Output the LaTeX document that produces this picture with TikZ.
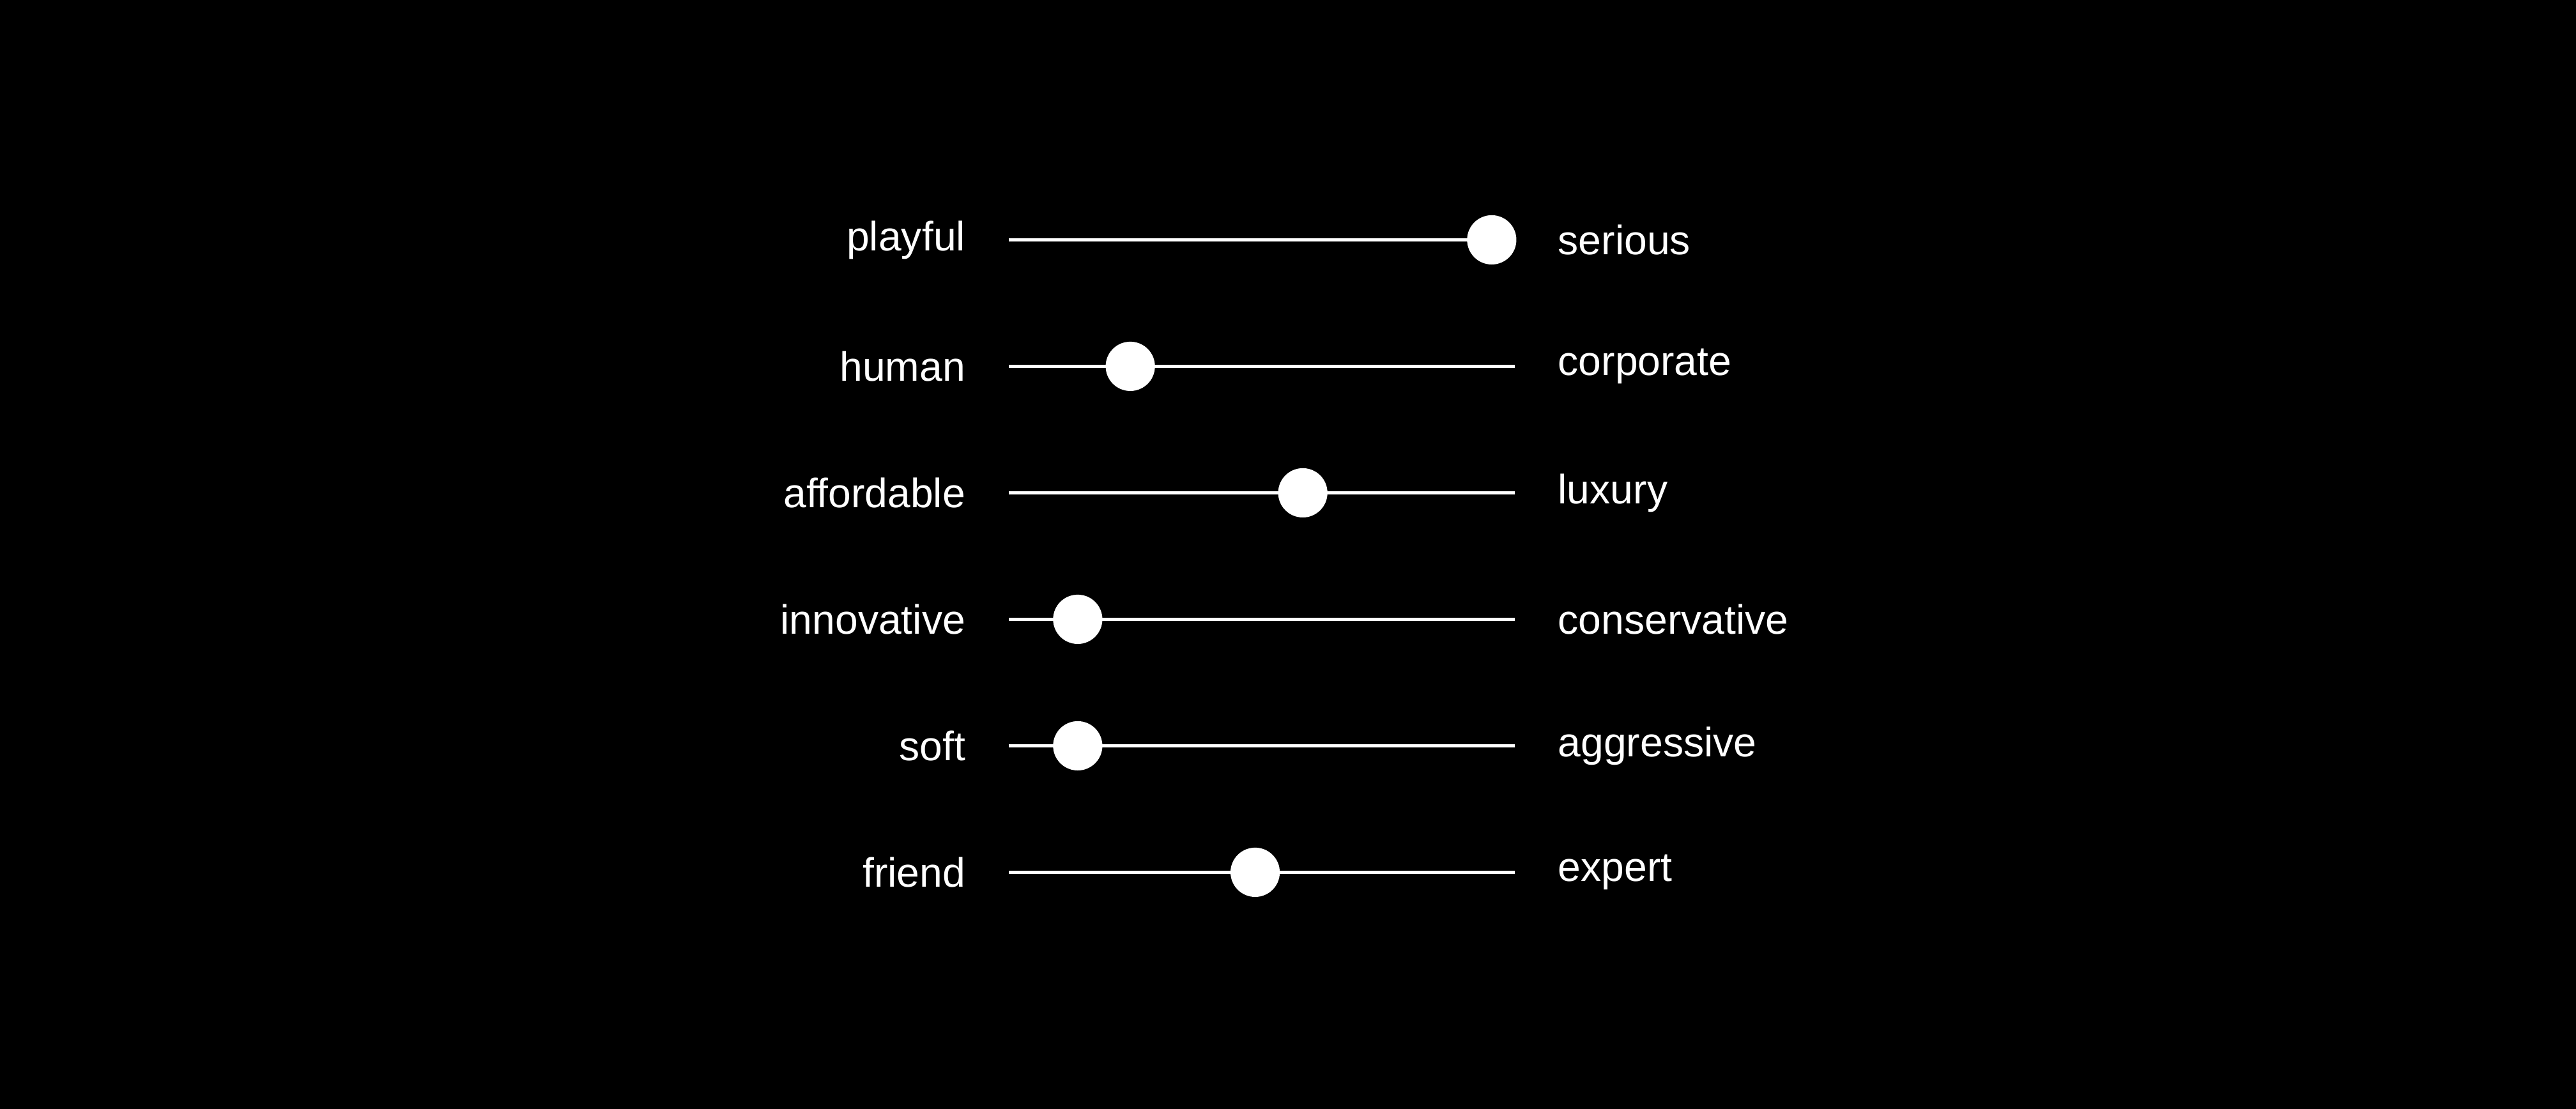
\documentclass[tikz,border=0pt]{standalone}
\usepackage{fontspec}
\setmainfont{Liberation Sans}
\tikzset{every picture/.style={line width=0.75pt}}
\tikzset{
  lefttext/.style={anchor=east,inner sep=0pt,text=white,font=\fontsize{25}{30}\selectfont},
  righttext/.style={anchor=west,inner sep=0pt,text=white,font=\fontsize{25}{30}\selectfont},
  track/.style={draw=white,line width=2.2pt},
  knob/.style={circle,fill=white,minimum size=30pt,inner sep=0pt}
}
\begin{document}
\begin{tikzpicture}[x=1pt,y=1pt,yscale=-1,xscale=1]
%Background
\fill [black] (0,0) rectangle (1568,675);
\useasboundingbox (0,0) rectangle (1568,675);

%Row playful / serious
\coordinate (a1) at (614,146); \coordinate (b1) at (922,146);
\draw [track] (a1) -- (b1);
\node [knob] (k1) at (908,146) {};
\node [lefttext] (l1) at (588,146) {playful};
\node [righttext] (r1) at (948,146) {serious};

%Row human / corporate
\coordinate (a2) at (614,223); \coordinate (b2) at (922,223);
\draw [track] (a2) -- (b2);
\node [knob] (k2) at (688,223) {};
\node [lefttext] (l2) at (588,223) {human};
\node [righttext] (r2) at (948,223) {corporate};

%Row affordable / luxury
\coordinate (a3) at (614,300); \coordinate (b3) at (922,300);
\draw [track] (a3) -- (b3);
\node [knob] (k3) at (793,300) {};
\node [lefttext] (l3) at (588,300) {affordable};
\node [righttext] (r3) at (948,300) {luxury};

%Row innovative / conservative
\coordinate (a4) at (614,377); \coordinate (b4) at (922,377);
\draw [track] (a4) -- (b4);
\node [knob] (k4) at (656,377) {};
\node [lefttext] (l4) at (588,377) {innovative};
\node [righttext] (r4) at (948,377) {conservative};

%Row soft / aggressive
\coordinate (a5) at (614,454); \coordinate (b5) at (922,454);
\draw [track] (a5) -- (b5);
\node [knob] (k5) at (656,454) {};
\node [lefttext] (l5) at (588,454) {soft};
\node [righttext] (r5) at (948,454) {aggressive};

%Row friend / expert
\coordinate (a6) at (614,531); \coordinate (b6) at (922,531);
\draw [track] (a6) -- (b6);
\node [knob] (k6) at (764,531) {};
\node [lefttext] (l6) at (588,531) {friend};
\node [righttext] (r6) at (948,531) {expert};

\end{tikzpicture}
\end{document}
